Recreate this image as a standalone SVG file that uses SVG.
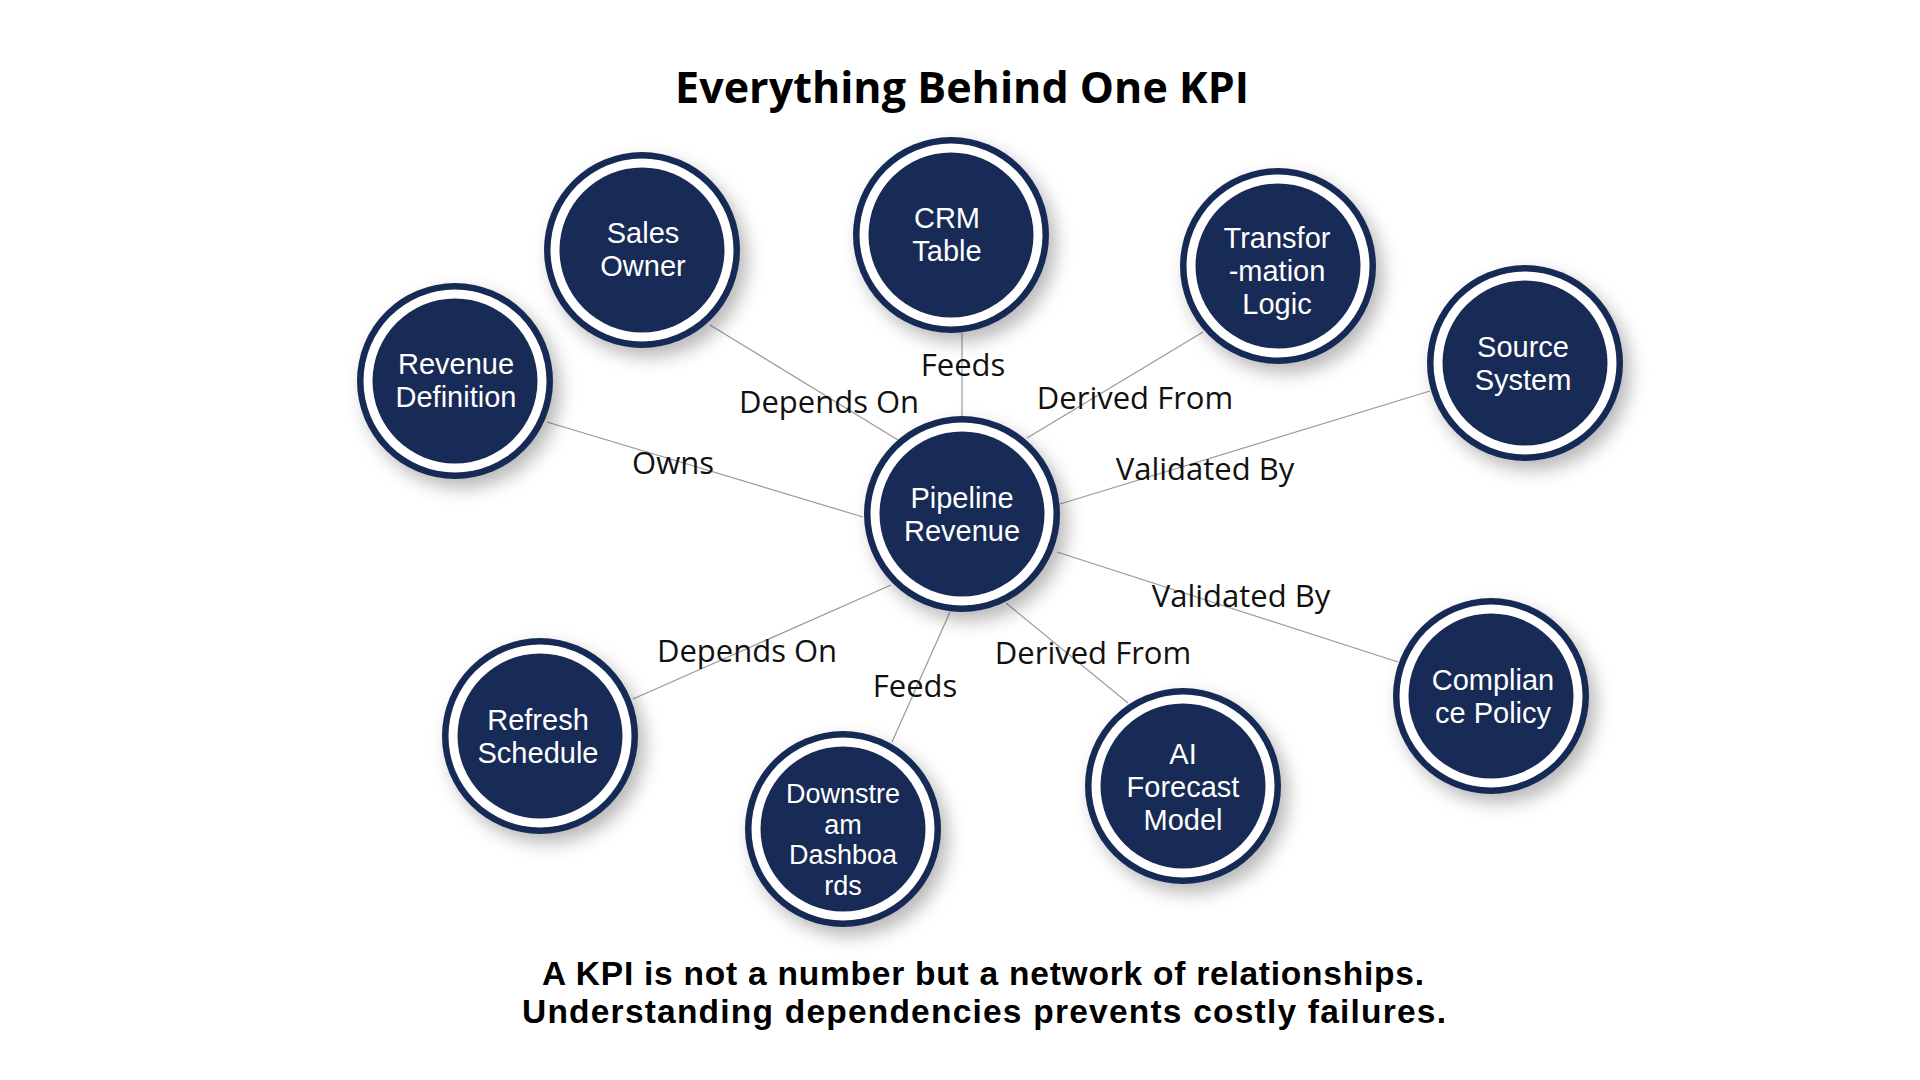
<svg xmlns="http://www.w3.org/2000/svg" width="1920" height="1080" viewBox="0 0 1920 1080">
<style>
.ring{fill:#182a56}
.gap{fill:#ffffff}
.core{fill:#182a56}
.nt{font-family:"Liberation Sans","Open Sans",sans-serif;font-size:29px;fill:#ffffff;text-anchor:middle}
.nts{font-size:27px}
.lbl{font-family:"Open Sans","Noto Sans","Liberation Sans",sans-serif;font-size:31px;fill:#111111;text-anchor:middle}
.edge{stroke:#9a9a9a;stroke-width:1.2;fill:none}
.title{font-family:"Open Sans","Noto Sans","Liberation Sans",sans-serif;font-weight:700;font-size:43px;fill:#000;text-anchor:middle}
.foot{font-family:"Liberation Sans","Open Sans",sans-serif;font-weight:700;font-size:33.5px;fill:#000;text-anchor:middle}
</style>
<defs>
<filter id="sh" x="-30%" y="-30%" width="170%" height="170%">
<feDropShadow dx="7" dy="9" stdDeviation="9" flood-color="#000" flood-opacity="0.28"/>
</filter>
<g id="node">
<circle class="ring" r="98" filter="url(#sh)"/>
<circle class="gap" r="91.5"/>
<circle class="core" r="82.5"/>
</g>
</defs>
<rect width="1920" height="1080" fill="#ffffff"/>
<text class="title" x="962" y="103" textLength="574">Everything Behind One KPI</text>

<g id="connectors">
<line class="edge" x1="710" y1="325" x2="898" y2="440"/>
<line class="edge" x1="962" y1="333" x2="962" y2="417"/>
<line class="edge" x1="1203" y1="332" x2="1027" y2="438"/>
<line class="edge" x1="1430" y1="391" x2="1060" y2="504"/>
<line class="edge" x1="547" y1="422" x2="863" y2="517"/>
<line class="edge" x1="633" y1="699" x2="891" y2="585"/>
<line class="edge" x1="892" y1="742" x2="950" y2="612"/>
<line class="edge" x1="1128" y1="703" x2="1006" y2="603"/>
<line class="edge" x1="1398" y1="662" x2="1057" y2="552"/>
<text class="lbl" x="829" y="413">Depends On</text>
<text class="lbl" x="963" y="376">Feeds</text>
<text class="lbl" x="1135" y="409">Derived From</text>
<text class="lbl" x="1205" y="480">Validated By</text>
<text class="lbl" x="673" y="474">Owns</text>
<text class="lbl" x="747" y="662">Depends On</text>
<text class="lbl" x="915" y="697">Feeds</text>
<text class="lbl" x="1093" y="664">Derived From</text>
<text class="lbl" x="1241" y="607">Validated By</text>
</g>

<g id="n-sales-owner"><use href="#node" x="642" y="250"/>
<text class="nt"><tspan x="643" y="243">Sales</tspan><tspan x="643" y="276">Owner</tspan></text></g>
<g id="n-crm-table"><use href="#node" x="951" y="235"/>
<text class="nt"><tspan x="947" y="228">CRM</tspan><tspan x="947" y="261">Table</tspan></text></g>
<g id="n-transformation"><use href="#node" x="1278" y="266"/>
<text class="nt"><tspan x="1277" y="248">Transfor</tspan><tspan x="1277" y="281">-mation</tspan><tspan x="1277" y="314">Logic</tspan></text></g>
<g id="n-source-system"><use href="#node" x="1525" y="363"/>
<text class="nt"><tspan x="1523" y="357">Source</tspan><tspan x="1523" y="390">System</tspan></text></g>
<g id="n-revenue-definition"><use href="#node" x="455" y="381"/>
<text class="nt"><tspan x="456" y="374">Revenue</tspan><tspan x="456" y="407">Definition</tspan></text></g>
<g id="n-pipeline-revenue"><use href="#node" x="962" y="514"/>
<text class="nt"><tspan x="962" y="508">Pipeline</tspan><tspan x="962" y="541">Revenue</tspan></text></g>
<g id="n-refresh-schedule"><use href="#node" x="540" y="736"/>
<text class="nt"><tspan x="538" y="730">Refresh</tspan><tspan x="538" y="763">Schedule</tspan></text></g>
<g id="n-downstream"><use href="#node" x="843" y="829"/>
<text class="nt nts"><tspan x="843" y="803">Downstre</tspan><tspan x="843" y="833.5">am</tspan><tspan x="843" y="864">Dashboa</tspan><tspan x="843" y="894.5">rds</tspan></text></g>
<g id="n-ai-forecast"><use href="#node" x="1183" y="786"/>
<text class="nt"><tspan x="1183" y="764">AI</tspan><tspan x="1183" y="797">Forecast</tspan><tspan x="1183" y="830">Model</tspan></text></g>
<g id="n-compliance"><use href="#node" x="1491" y="696"/>
<text class="nt"><tspan x="1493" y="690">Complian</tspan><tspan x="1493" y="723">ce Policy</tspan></text></g>

<text class="foot" x="983" y="985" textLength="882">A KPI is not a number but a network of relationships.</text>
<text class="foot" x="984" y="1023" textLength="924">Understanding dependencies prevents costly failures.</text>
</svg>
